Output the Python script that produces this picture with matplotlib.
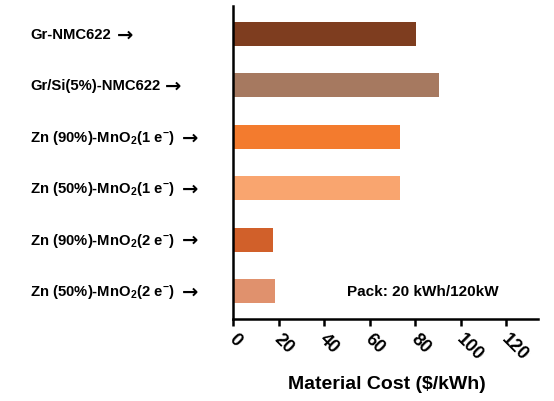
import matplotlib.pyplot as plt
from matplotlib.transforms import ScaledTranslation

plt.rcParams['font.family'] = ['Liberation Sans', 'DejaVu Sans']
plt.rcParams['mathtext.default'] = 'regular'

# data
labels = [
    'Gr-NMC622',
    'Gr/Si(5%)-NMC622',
    'Zn (90%)-MnO$_2$(1 e$^{-}$)',
    'Zn (50%)-MnO$_2$(1 e$^{-}$)',
    'Zn (90%)-MnO$_2$(2 e$^{-}$)',
    'Zn (50%)-MnO$_2$(2 e$^{-}$)',
]
arrow_x = [117, 165, 182, 182, 182, 182]  # pixel x where the arrow starts
costs = [80.5, 90.5, 73.5, 73.5, 17.5, 18.5]
colors = ['#7E3D1F', '#A67960', '#F37B2E', '#F9A56F', '#D1602A', '#E0916D']
xticks = [0, 20, 40, 60, 80, 100, 120]

W, H = 554, 402
fig = plt.figure(figsize=(W / 100, H / 100), dpi=100)
ax = fig.add_axes([233 / W, 82 / H, 305 / W, 313 / H])

ypos = list(range(len(labels)))
ax.barh(ypos, costs, height=0.47, color=colors, edgecolor='none')
ax.set_ylim(len(labels) - 0.455, -0.545)
ax.set_xlim(0, 134)

for s in ['top', 'right']:
    ax.spines[s].set_visible(False)
for s in ['left', 'bottom']:
    ax.spines[s].set_linewidth(1.8)

ax.set_yticks([])
for i, lab in enumerate(labels):
    yf = ax.transData.transform((0, i))[1] / H
    fig.text(30 / W, yf, lab, ha='left', va='center',
             fontsize=10.7, fontweight='bold')
    fig.text(arrow_x[i] / W, yf, '\u2192', ha='left', va='center',
             fontsize=14, fontweight='bold', family='DejaVu Sans')

ax.set_xticks(xticks)
ax.set_xticklabels([str(t) for t in xticks], rotation=-45, ha='left',
                   rotation_mode='anchor', fontsize=13, fontweight='bold')
ax.tick_params(axis='x', direction='out', length=5, width=1.8, pad=3)
shift = ScaledTranslation(4 / 100, 0, fig.dpi_scale_trans)
for t in ax.get_xticklabels():
    t.set_transform(t.get_transform() + shift)

fig.text(387 / W, 1 - 385 / H, 'Material Cost ($/kWh)', ha='center', va='center',
         fontsize=14, fontweight='bold')
ax.text(50, 5, 'Pack: 20 kWh/120kW', fontsize=11, fontweight='bold', va='center')

fig.savefig('out.png', dpi=100)
